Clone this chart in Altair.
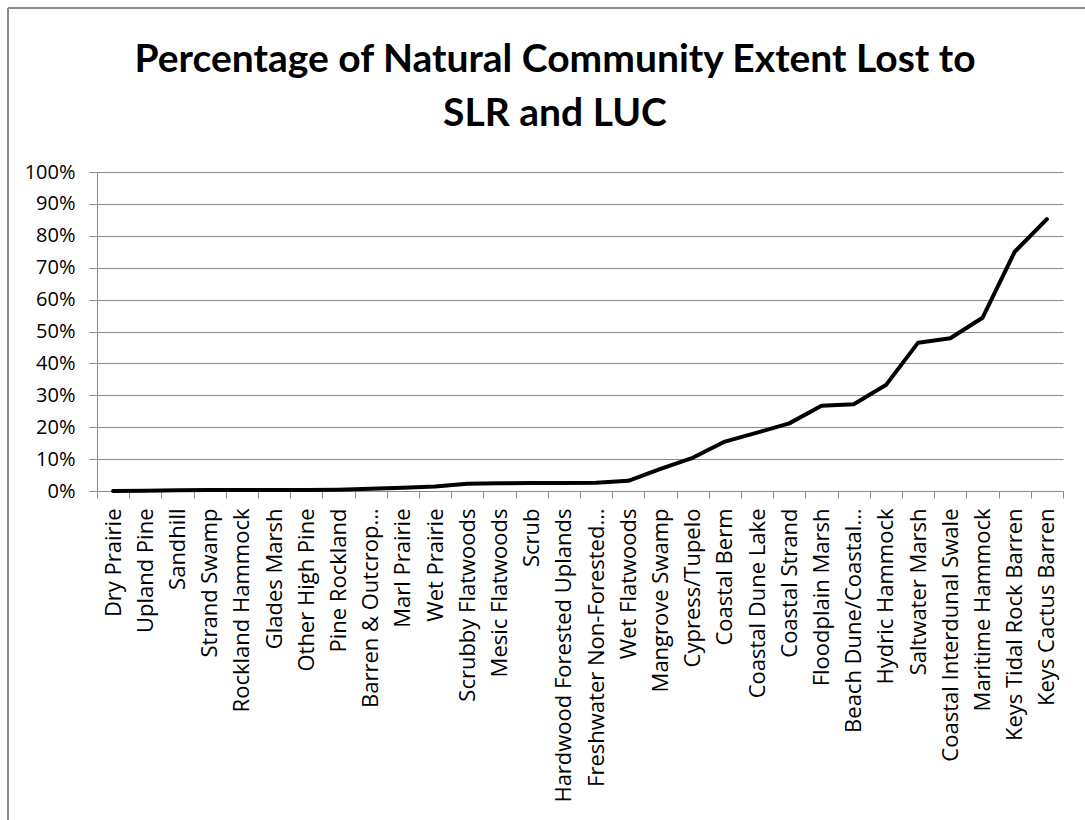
import altair as alt
import pandas as pd

title_lines = ["Percentage of Natural Community Extent Lost to", "SLR and LUC"]
communities = [
    "Dry Prairie", "Upland Pine", "Sandhill", "Strand Swamp", "Rockland Hammock",
    "Glades Marsh", "Other High Pine", "Pine Rockland", "Barren & Outcrop…",
    "Marl Prairie", "Wet Prairie", "Scrubby Flatwoods", "Mesic Flatwoods", "Scrub",
    "Hardwood Forested Uplands", "Freshwater Non-Forested…", "Wet Flatwoods",
    "Mangrove Swamp", "Cypress/Tupelo", "Coastal Berm", "Coastal Dune Lake",
    "Coastal Strand", "Floodplain Marsh", "Beach Dune/Coastal…", "Hydric Hammock",
    "Saltwater Marsh", "Coastal Interdunal Swale", "Maritime Hammock",
    "Keys Tidal Rock Barren", "Keys Cactus Barren",
]
pct_lost = [
    0.000, 0.001, 0.002, 0.003, 0.003,
    0.003, 0.003, 0.004, 0.007,
    0.010, 0.014, 0.023, 0.024, 0.025,
    0.025, 0.026, 0.032,
    0.069, 0.104, 0.155, 0.183,
    0.212, 0.267, 0.272, 0.332,
    0.465, 0.479, 0.543,
    0.750, 0.852,
]
y_ticks = [0, 0.1, 0.2, 0.3, 0.4, 0.5, 0.6, 0.7, 0.8, 0.9, 1.0]

df = pd.DataFrame({"community": communities, "pct": pct_lost})
one = pd.DataFrame({"title": ["\n".join(title_lines)]})

LABEL_FONT = "Open Sans"
TITLE_FONT = "Lato"
GRID = "#8a8a8a"

x_enc = alt.X(
    "community:N",
    sort=communities,
    scale=alt.Scale(type="band", paddingInner=0, paddingOuter=0),
    bandPosition=0.5,
    axis=alt.Axis(
        title=None, labelAngle=270, labelAlign="right", labelBaseline="middle",
        labelFontSize=22, labelFont=LABEL_FONT, labelColor="#000000", labelPadding=10,
        labelLimit=400, tickBand="extent", tickSize=7, tickColor=GRID,
        domainColor=GRID, domainWidth=1, grid=False,
    ),
)
y_enc = alt.Y(
    "pct:Q",
    scale=alt.Scale(domain=[0, 1], nice=False),
    axis=alt.Axis(
        title=None, values=y_ticks, format=".0%", labelFontSize=20, labelFont=LABEL_FONT,
        labelColor="#000000", labelPadding=14, tickSize=8, tickColor=GRID,
        domainColor=GRID, gridColor=GRID, gridWidth=1, grid=True,
    ),
)

line = alt.Chart(df).mark_line(
    color="#000000", strokeWidth=4, strokeCap="round", strokeJoin="round"
).encode(x=x_enc, y=y_enc)

title_mark = alt.Chart(one).mark_text(
    font=TITLE_FONT, fontSize=39, fontWeight="bold", color="#000000",
    align="center", baseline="alphabetic", lineHeight=54, lineBreak="\n",
).encode(x=alt.value(458), y=alt.value(-100), text="title:N")

frame_top = alt.Chart(one).mark_rule(color="#8a8a8a", strokeWidth=2).encode(
    x=alt.value(-89), x2=alt.value(1000), y=alt.value(-164)
)
frame_left = alt.Chart(one).mark_rule(color="#8a8a8a", strokeWidth=2).encode(
    x=alt.value(-89), y=alt.value(-164), y2=alt.value(700)
)

chart = (
    alt.layer(line, title_mark, frame_top, frame_left)
    .properties(
        width=966,
        height=319,
        autosize=alt.AutoSizeParams(type="none"),
        padding={"left": 97, "top": 172, "right": 22, "bottom": 329},
        background="#ffffff",
    )
    .configure_view(stroke=None)
)

chart.save("out.html", embed_options={"renderer": "svg", "actions": False})
